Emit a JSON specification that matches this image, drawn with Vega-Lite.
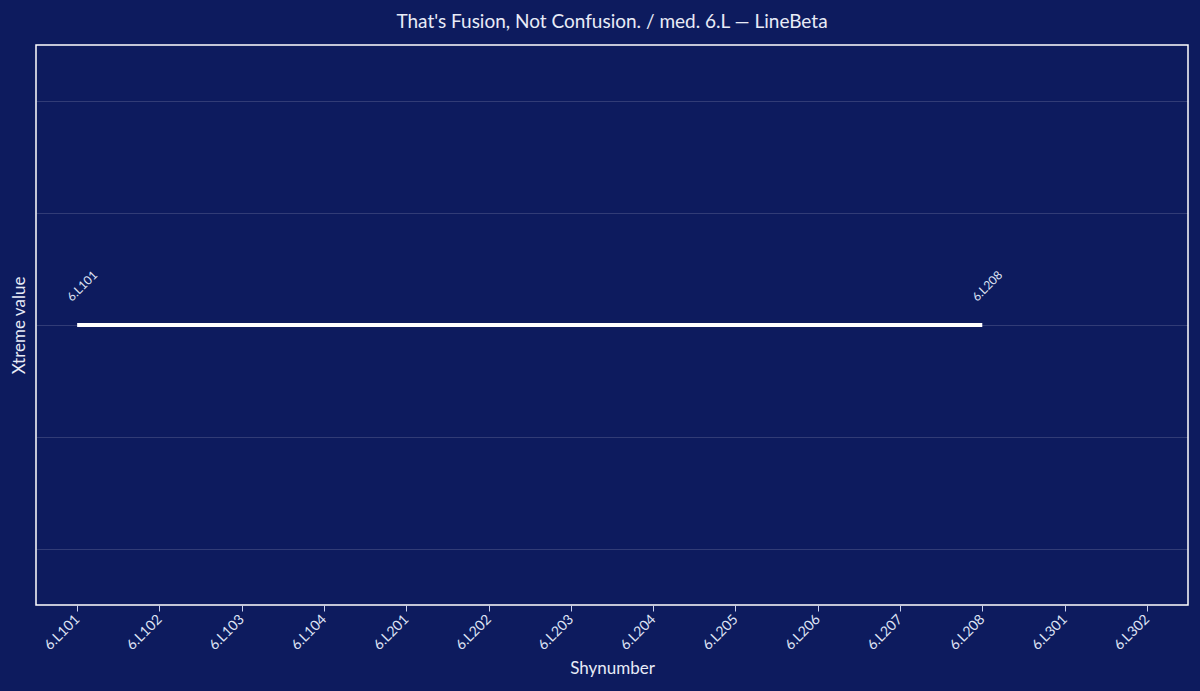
{
  "$schema": "https://vega.github.io/schema/vega-lite/v6.json",
  "autosize": {"type": "fit", "contains": "padding"},
  "width": 1200,
  "height": 691,
  "background": "#0d1b5e",
  "padding": {"left": 10, "right": 12, "top": 13, "bottom": 14},
  "title": {
    "text": "That's Fusion, Not Confusion. / med. 6.L — LineBeta",
    "color": "#e8ebf7",
    "font": "Lato",
    "fontSize": 19,
    "fontWeight": "normal",
    "offset": 13
  },
  "config": {
    "view": {"stroke": "#ffffff", "strokeWidth": 1.5},
    "font": "Lato"
  },
  "data": {
    "values": [
      {"shynumber": "6.L101", "value": 0, "label": "6.L101"},
      {"shynumber": "6.L102", "value": 0, "label": ""},
      {"shynumber": "6.L103", "value": 0, "label": ""},
      {"shynumber": "6.L104", "value": 0, "label": ""},
      {"shynumber": "6.L201", "value": 0, "label": ""},
      {"shynumber": "6.L202", "value": 0, "label": ""},
      {"shynumber": "6.L203", "value": 0, "label": ""},
      {"shynumber": "6.L204", "value": 0, "label": ""},
      {"shynumber": "6.L205", "value": 0, "label": ""},
      {"shynumber": "6.L206", "value": 0, "label": ""},
      {"shynumber": "6.L207", "value": 0, "label": ""},
      {"shynumber": "6.L208", "value": 0, "label": "6.L208"}
    ]
  },
  "encoding": {
    "x": {
      "field": "shynumber",
      "type": "ordinal",
      "title": "Shynumber",
      "scale": {
        "type": "point",
        "padding": 0.5,
        "domain": ["6.L101", "6.L102", "6.L103", "6.L104", "6.L201", "6.L202", "6.L203", "6.L204", "6.L205", "6.L206", "6.L207", "6.L208", "6.L301", "6.L302"]
      },
      "axis": {
        "labelAngle": -45,
        "labelAlign": "right",
        "labelBaseline": "middle",
        "labelColor": "#dfe3f5",
        "labelFontSize": 14,
        "labelPadding": 6,
        "titleColor": "#e8ebf7",
        "titleFontSize": 17,
        "titleFontWeight": "normal",
        "titlePadding": 8,
        "tickColor": "#c9d0ee",
        "tickSize": 6,
        "domain": false,
        "grid": false
      }
    },
    "y": {
      "field": "value",
      "type": "quantitative",
      "title": "Xtreme value",
      "scale": {"domain": [-2.5, 2.5], "nice": false, "zero": false},
      "axis": {
        "values": [-2, -1, 0, 1, 2],
        "labels": false,
        "ticks": false,
        "domain": false,
        "gridColor": "#ffffff",
        "gridOpacity": 0.15,
        "titleColor": "#e8ebf7",
        "titleFontSize": 17,
        "titleFontWeight": "normal",
        "titlePadding": 8
      }
    }
  },
  "layer": [
    {
      "mark": {"type": "line", "color": "#ffffff", "strokeWidth": 4, "strokeCap": "butt"}
    },
    {
      "mark": {
        "type": "text",
        "angle": 315,
        "align": "left",
        "baseline": "bottom",
        "yOffset": -21,
        "xOffset": -3,
        "fontSize": 12,
        "color": "#dfe3f5"
      },
      "encoding": {"text": {"field": "label"}}
    }
  ]
}
